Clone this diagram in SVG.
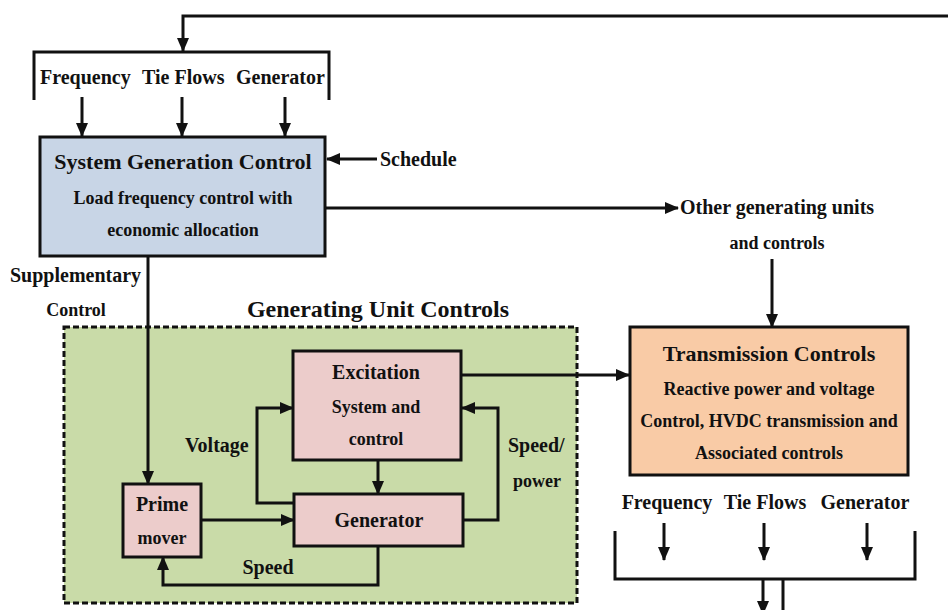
<svg xmlns="http://www.w3.org/2000/svg" width="948" height="610" viewBox="0 0 948 610">
<style>
text{font-family:"Liberation Serif","Times New Roman",serif;font-weight:bold;fill:#111}
.t24{font-size:24px}.t22{font-size:22px}.t20{font-size:20px}.t18{font-size:18px}
.c{text-anchor:middle}
.box{stroke:#111;stroke-width:3}
.ln{fill:none;stroke:#111;stroke-width:3}
.ar{fill:none;stroke:#111;stroke-width:3;marker-end:url(#ah)}
</style>
<defs>
<marker id="ah" markerUnits="userSpaceOnUse" markerWidth="14" markerHeight="12" refX="13" refY="6" orient="auto">
<path d="M0,0 L14,6 L0,12 z" fill="#111"/>
</marker>
</defs>
<rect width="948" height="610" fill="#fff"/>

<g id="gen-unit-controls">
<rect x="64" y="327" width="513" height="276" fill="#c9dba8" stroke="#111" stroke-width="3" stroke-dasharray="6,3"/>
<text class="t24 c" x="378" y="317">Generating Unit Controls</text>
</g>

<g id="connectors">
<path class="ar" d="M948,16 H183 V51"/>
<path class="ln" d="M34,100 V52 H329 V100"/>
<path class="ar" d="M82,97 V136"/>
<path class="ar" d="M182,97 V136"/>
<path class="ar" d="M285,97 V136"/>
<path class="ar" d="M377,159 H327"/>
<path class="ar" d="M325,208 H678"/>
<path class="ar" d="M148,256 V484"/>
<path class="ar" d="M772,259 V327"/>
<path class="ar" d="M461,375 H629"/>
<path class="ar" d="M201,520 H294"/>
<path class="ar" d="M378,460 V494"/>
<path class="ar" d="M294,503 H257 V408 H293"/>
<path class="ar" d="M463,520 H498 V408 H462"/>
<path class="ar" d="M378,546 V585 H163 V557"/>
<path class="ar" d="M664,523 V560"/>
<path class="ar" d="M764,523 V560"/>
<path class="ar" d="M867,523 V560"/>
<path class="ln" d="M615,531 V579 H915 V531"/>
<path class="ar" d="M763,579 V614"/>
<path class="ln" d="M783,579 V612"/>
</g>

<g id="labels">
<text class="t20" x="40" y="84">Frequency</text>
<text class="t20" x="142" y="84">Tie Flows</text>
<text class="t20" x="236" y="84">Generator</text>
<text class="t20" x="380" y="166">Schedule</text>
<text class="t20" x="680" y="214">Other generating units</text>
<text class="t18 c" x="777" y="249">and controls</text>
<text class="t20" x="10" y="282">Supplementary</text>
<text class="t18 c" x="76" y="316">Control</text>
<text class="t20" x="185" y="452">Voltage</text>
<text class="t20" x="508" y="452">Speed/</text>
<text class="t18 c" x="537" y="487">power</text>
<text class="t20 c" x="268" y="574">Speed</text>
<text class="t20 c" x="667" y="509">Frequency</text>
<text class="t20 c" x="765" y="509">Tie Flows</text>
<text class="t20 c" x="865" y="509">Generator</text>
</g>

<g id="system-generation-control">
<rect class="box" x="40" y="137" width="285" height="119" fill="#c8d5e6"/>
<text class="t22 c" x="183" y="169">System Generation Control</text>
<text class="t18 c" x="183" y="204">Load frequency control with</text>
<text class="t18 c" x="183" y="236">economic allocation</text>
</g>

<g id="excitation">
<rect class="box" x="293" y="351" width="168" height="109" fill="#eccccb"/>
<text class="t20 c" x="376" y="379">Excitation</text>
<text class="t18 c" x="376" y="413">System and</text>
<text class="t18 c" x="376" y="445">control</text>
</g>

<g id="generator">
<rect class="box" x="294" y="494" width="169" height="52" fill="#eccccb"/>
<text class="t20 c" x="379" y="527">Generator</text>
</g>

<g id="prime-mover">
<rect class="box" x="123" y="484" width="78" height="73" fill="#eccccb"/>
<text class="t20 c" x="162" y="511">Prime</text>
<text class="t18 c" x="162" y="544">mover</text>
</g>

<g id="transmission-controls">
<rect class="box" x="630" y="327" width="278" height="148" fill="#f9cba6"/>
<text class="t22 c" x="769" y="361">Transmission Controls</text>
<text class="t18 c" x="769" y="395">Reactive power and voltage</text>
<text class="t18 c" x="769" y="427">Control, HVDC transmission and</text>
<text class="t18 c" x="769" y="459">Associated controls</text>
</g>
</svg>
